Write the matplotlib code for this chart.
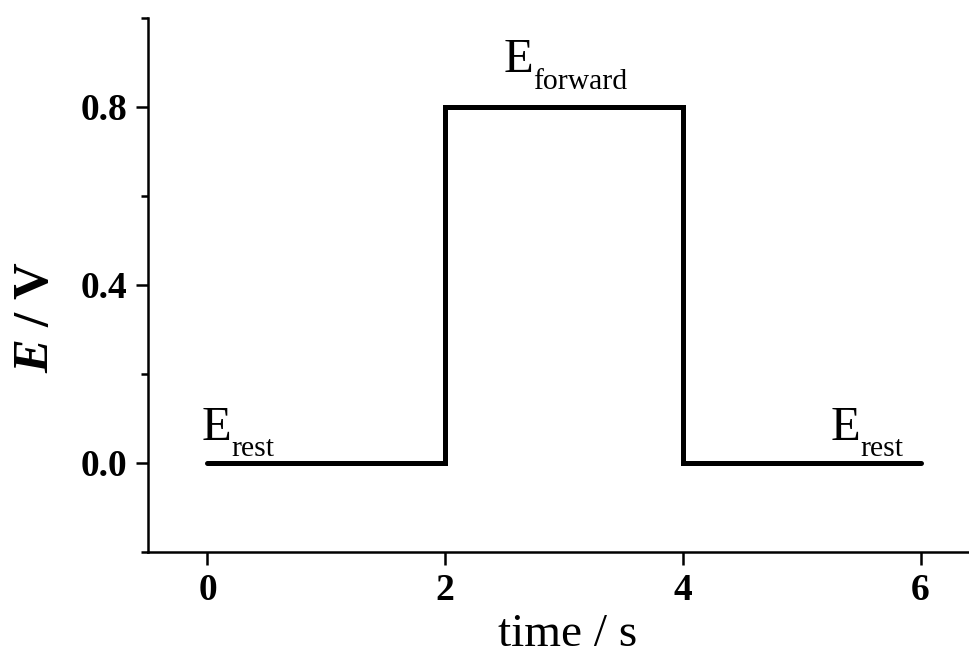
import matplotlib
matplotlib.use("Agg")
import matplotlib.pyplot as plt
from matplotlib.ticker import MultipleLocator

# potential step program: rest -> forward -> rest
time_s = [0, 2, 2, 4, 4, 6]
potential_V = [0.0, 0.0, 0.8, 0.8, 0.0, 0.0]

x_ticks = [0, 2, 4, 6]
y_ticks = [0.0, 0.4, 0.8]

plt.rcParams['font.family'] = ['Liberation Serif', 'DejaVu Serif']
plt.rcParams['mathtext.fontset'] = 'custom'
plt.rcParams['mathtext.rm'] = 'Liberation Serif'
plt.rcParams['mathtext.it'] = 'Liberation Serif:italic:bold'
plt.rcParams['mathtext.bf'] = 'Liberation Serif:bold'

fig = plt.figure(figsize=(9.7, 6.59), dpi=100)
ax = fig.add_axes([0.1526, 0.1624, 0.8454, 0.8103])

ax.plot(time_s, potential_V, color='black', lw=3.6,
        solid_capstyle='round', solid_joinstyle='miter')

ax.set_xlim(-0.5, 6.4)
ax.set_ylim(-0.2, 1.0)
ax.set_xticks(x_ticks)
ax.set_yticks(y_ticks)
ax.set_xticklabels([f'{v:d}' for v in x_ticks])
ax.set_yticklabels([f'{v:.1f}' for v in y_ticks])
ax.yaxis.set_minor_locator(MultipleLocator(0.2))

for side in ('top', 'right'):
    ax.spines[side].set_visible(False)
for side in ('left', 'bottom'):
    ax.spines[side].set_linewidth(1.8)

ax.tick_params(which='major', direction='out', length=9, width=1.8,
               labelsize=27)
ax.tick_params(axis='x', which='major', pad=6)
ax.tick_params(axis='y', which='major', pad=6)
ax.tick_params(which='minor', direction='out', length=5, width=1.8)
for lab in ax.get_xticklabels() + ax.get_yticklabels():
    lab.set_fontweight('bold')

# axis titles placed in figure coordinates
fig.text(0.5856, 0.0197, 'time / s', fontsize=34, ha='center', va='baseline')
fig.text(0.037, 0.519, r'$\mathit{E}$ / V', fontsize=36.5, fontweight='bold',
         rotation=90, ha='center', va='center')


def level_label(x, y, dx, dy, sub):
    # big "E" with a smaller subscript right after it
    e = ax.annotate('E', xy=(x, y), xytext=(dx, dy), textcoords='offset points',
                    fontsize=35, ha='left', va='baseline')
    ax.annotate(sub, xy=(1, 0), xycoords=e, xytext=(0, -9),
                textcoords='offset points', fontsize=21.3, ha='left', va='bottom')


level_label(0, 0.0, -4.4, 16.6, 'rest')
level_label(3, 0.8, -43.5, 25.0, 'forward')
level_label(6, 0.0, -64.8, 16.6, 'rest')

fig.savefig('out.png', dpi=100)
